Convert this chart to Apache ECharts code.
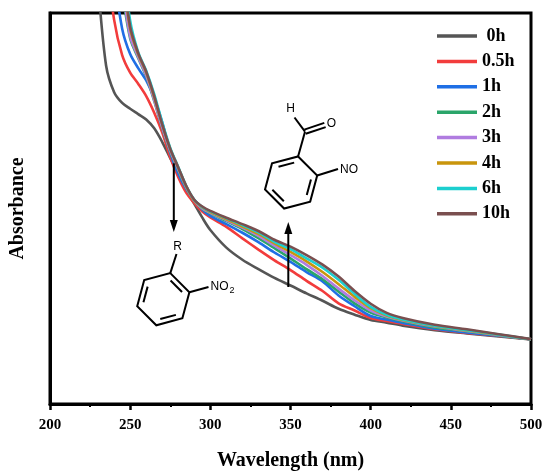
<!DOCTYPE html>
<html>
<head>
<meta charset="utf-8">
<script src="https://cdn.jsdelivr.net/npm/echarts@6/dist/echarts.min.js"></script>
<style>html,body{margin:0;padding:0;background:#fff}#c{width:550px;height:476px}</style>
</head>
<body>
<div id="c"></div>
<script>
const wavelengths = [230,235,240,245,250,255,260,265,270,275,280,285,290,295,300,310,320,330,340,350,360,370,380,390,400,410,420,440,460,480,500];
const seriesNames = ['0h','0.5h','1h','2h','3h','4h','6h','10h'];
const abs0h  = [2.15,1.73,1.595,1.54,1.51,1.483,1.455,1.41,1.34,1.257,1.177,1.093,1.024,0.953,0.89,0.80,0.738,0.690,0.645,0.606,0.566,0.528,0.487,0.457,0.430,0.416,0.401,0.378,0.361,0.346,0.330];
const abs05h = [2.8,2.30,1.965,1.785,1.695,1.638,1.575,1.49,1.388,1.262,1.16,1.08,1.028,0.985,0.955,0.906,0.847,0.79,0.735,0.685,0.63,0.578,0.515,0.478,0.44,0.425,0.41,0.382,0.364,0.348,0.331];
const abs1h  = [3.0,2.6,2.2,1.92,1.79,1.718,1.655,1.565,1.44,1.285,1.178,1.10,1.044,0.995,0.962,0.92,0.876,0.828,0.775,0.727,0.675,0.627,0.555,0.50,0.45,0.432,0.415,0.385,0.366,0.349,0.331];
const abs2h  = [3.3,2.9,2.5,2.12,1.87,1.77,1.675,1.55,1.41,1.29,1.195,1.105,1.038,0.998,0.975,0.936,0.895,0.848,0.797,0.745,0.69,0.638,0.575,0.515,0.468,0.443,0.424,0.392,0.372,0.351,0.331];
const abs3h  = [3.3,2.9,2.55,2.15,1.88,1.775,1.68,1.555,1.415,1.295,1.20,1.108,1.04,1.0,0.978,0.94,0.902,0.86,0.81,0.762,0.712,0.655,0.59,0.53,0.478,0.448,0.427,0.396,0.374,0.352,0.331];
const abs4h  = [3.4,3.0,2.65,2.22,1.92,1.79,1.695,1.57,1.43,1.305,1.208,1.112,1.042,1.005,0.982,0.945,0.908,0.87,0.822,0.778,0.730,0.675,0.613,0.548,0.49,0.453,0.43,0.399,0.376,0.354,0.331];
const abs6h  = [3.5,3.1,2.75,2.3,1.96,1.80,1.705,1.585,1.44,1.31,1.212,1.115,1.045,1.008,0.985,0.95,0.915,0.878,0.830,0.792,0.745,0.697,0.635,0.563,0.497,0.456,0.432,0.400,0.378,0.355,0.331];
const abs10h = [3.5,3.1,2.7,2.25,1.93,1.795,1.70,1.575,1.43,1.305,1.21,1.115,1.045,1.01,0.988,0.953,0.92,0.885,0.84,0.805,0.762,0.713,0.652,0.578,0.513,0.466,0.44,0.405,0.382,0.357,0.332];
const xTicks = {min:200, max:500, interval:50};

const allValues = [abs0h,abs05h,abs1h,abs2h,abs3h,abs4h,abs6h,abs10h];
const colors = ['#555555','#f23c3c','#1f6fe5','#2aa56a','#b07ce0','#c9950c','#1ccfcf','#7a4f4f'];

const serif = 'Liberation Serif';
const sans = 'Liberation Sans';

// ---- annotation drawing helpers (chemical structures and arrows) ----
function hexagon(cx, cy, r, doubleEdges) {
  const pts = [];
  for (let i = 0; i < 6; i++) {
    const a = (-75 + 60 * i) * Math.PI / 180;
    pts.push([cx + r * Math.cos(a), cy + r * Math.sin(a)]);
  }
  const els = [{type:'polygon', shape:{points:pts}, style:{fill:'none', stroke:'#000', lineWidth:2}, z:10}];
  doubleEdges.forEach(i => {
    const p = pts[i], q = pts[(i + 1) % 6];
    const f = 0.2, k = 0.8;
    const sx = p[0] + (q[0]-p[0])*f, sy = p[1] + (q[1]-p[1])*f;
    const ex = p[0] + (q[0]-p[0])*k, ey = p[1] + (q[1]-p[1])*k;
    const mx = (p[0]+q[0])/2, my = (p[1]+q[1])/2;
    const dx = cx - mx, dy = cy - my, d = Math.hypot(dx, dy);
    const o = 5;
    els.push({type:'line', shape:{x1:sx+dx/d*o, y1:sy+dy/d*o, x2:ex+dx/d*o, y2:ey+dy/d*o}, style:{stroke:'#000', lineWidth:2}, z:10});
  });
  return {els, pts};
}
function bond(x1,y1,x2,y2){ return {type:'line', shape:{x1,y1,x2,y2}, style:{stroke:'#000', lineWidth:2}, z:10}; }
function label(t,x,y,size,align){ return {type:'text', x, y, style:{text:t, fill:'#000', font:'normal '+size+'px "'+sans+'"', textAlign:align||'center', textVerticalAlign:'middle'}, z:10}; }
function arrow(x, y1, y2) {
  const dir = y2 > y1 ? 1 : -1;
  const head = 12, hw = 4;
  return [
    {type:'line', shape:{x1:x, y1:y1, x2:x, y2:y2 - dir*head}, style:{stroke:'#000', lineWidth:2}, z:10},
    {type:'polygon', shape:{points:[[x, y2],[x-hw, y2-dir*head],[x+hw, y2-dir*head]]}, style:{fill:'#000'}, z:10}
  ];
}

const m1 = hexagon(163.3, 299.2, 27, [0, 2, 4]);
const m2 = hexagon(291.1, 182.5, 27, [5, 1, 3]);
const g = [];
g.push(...m1.els, ...m2.els);
// molecule 1: R and NO2
g.push(bond(m1.pts[0][0], m1.pts[0][1], 176.5, 254));
g.push(label('R', 177.5, 246.5, 12));
g.push(bond(m1.pts[1][0], m1.pts[1][1], 208.5, 287));
g.push(label('NO', 210.5, 287, 12, 'left'));
g.push(label('2', 229.5, 291, 9, 'left'));
// molecule 2: CHO and NO
g.push(bond(m2.pts[0][0], m2.pts[0][1], 305, 131.7));
g.push(bond(305, 131.7, 294.5, 117.5));
g.push(label('H', 290.5, 108.5, 12));
(function(){
  const x1=305, y1=131.7, x2=325, y2=125;
  const dx=x2-x1, dy=y2-y1, d=Math.hypot(dx,dy), nx=-dy/d*2.2, ny=dx/d*2.2;
  g.push(bond(x1+nx, y1+ny, x2+nx, y2+ny));
  g.push(bond(x1-nx, y1-ny, x2-nx, y2-ny));
})();
g.push(label('O', 331.5, 123.5, 12));
g.push(bond(m2.pts[1][0], m2.pts[1][1], 338, 169));
g.push(label('NO', 340, 169.5, 12, 'left'));
// trend arrows
g.push(...arrow(173.8, 163.3, 232));
g.push(...arrow(288.3, 287, 222));

const series = seriesNames.map((n, i) => ({
  name: n,
  type: 'line',
  data: wavelengths.map((w, j) => [w, allValues[i][j]]),
  showSymbol: false,
  smooth: 0.3,
  clip: true,
  color: colors[i],
  lineStyle: {width: 2.6, color: colors[i]},
  z: 2 + i
}));

const chart = echarts.init(document.getElementById('c'), null, {renderer:'canvas'});
chart.setOption({
  animation: false,
  backgroundColor: '#fff',
  grid: {left: 48, right: 19, top: 13, bottom: 72, show: true, borderColor: '#000', borderWidth: 3, backgroundColor: 'transparent'},
  legend: {
    orient: 'vertical', left: 432, top: 22,
    icon: 'rect', itemWidth: 40, itemHeight: 3.5, itemGap: 7.4,
    formatter: n => n === '0h' ? ' 0h' : n,
    textStyle: {color: '#000', fontFamily: serif, fontWeight: 'bold', fontSize: 18, lineHeight: 18},
    data: seriesNames
  },
  xAxis: {
    type: 'value', min: xTicks.min, max: xTicks.max, interval: xTicks.interval,
    name: 'Wavelength (nm)', nameLocation: 'middle', nameGap: 47,
    nameTextStyle: {color: '#000', fontFamily: serif, fontWeight: 'bold', fontSize: 20},
    axisLine: {lineStyle: {color: '#000', width: 3}},
    axisTick: {show: true, length: 6, lineStyle: {color: '#000', width: 2.5}},
    minorTick: {show: true, splitNumber: 2, length: 3, lineStyle: {color: '#000', width: 2}},
    axisLabel: {color: '#000', fontFamily: serif, fontWeight: 'bold', fontSize: 15, margin: 14},
    splitLine: {show: false}
  },
  yAxis: {
    type: 'value', min: 0, max: 2,
    name: 'Absorbance', nameLocation: 'middle', nameGap: 22,
    nameTextStyle: {color: '#000', fontFamily: serif, fontWeight: 'bold', fontSize: 20},
    axisLine: {show: true, lineStyle: {color: '#000', width: 3}},
    axisTick: {show: false}, axisLabel: {show: false}, splitLine: {show: false}
  },
  series: series,
  graphic: g
});
</script>
</body>
</html>
